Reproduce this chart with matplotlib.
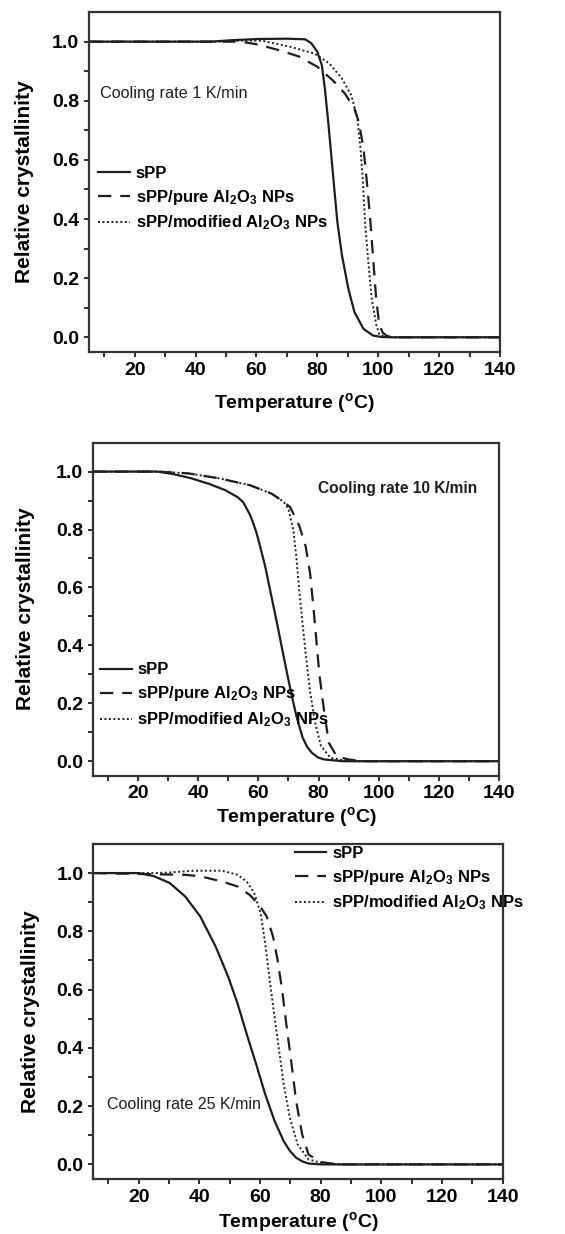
import numpy as np
import matplotlib.pyplot as plt

plt.rcParams['font.family'] = ['Liberation Sans', 'DejaVu Sans']
plt.rcParams['mathtext.fontset'] = 'custom'
plt.rcParams['mathtext.rm'] = 'Liberation Sans:bold'
plt.rcParams['mathtext.bf'] = 'Liberation Sans:bold'
plt.rcParams['mathtext.it'] = 'Liberation Sans:bold'

# ---- data ----
# cooling rate 1 K/min
t1_spp = [5, 45, 52, 60.7, 70, 76, 78, 80, 81.5, 82.5, 83.6, 84.6, 85.6, 86.6, 88.1, 90.2, 92.2, 95.2, 98.3, 101, 104, 140]
y1_spp = [1.0, 1.0, 1.005, 1.009, 1.01, 1.008, 0.995, 0.966, 0.92, 0.84, 0.727, 0.614, 0.50, 0.389, 0.277, 0.164, 0.085, 0.028, 0.006, 0.001, 0.0, 0.0]
t1_pure = [5, 55, 60.7, 67.8, 73.9, 80, 85, 89.1, 92.2, 93.7, 95.2, 96.2, 97.3, 98.3, 99.3, 100.3, 101.5, 103, 106, 140]
y1_pure = [1.0, 1.0, 0.99, 0.97, 0.95, 0.915, 0.87, 0.824, 0.773, 0.727, 0.636, 0.534, 0.41, 0.273, 0.136, 0.045, 0.015, 0.004, 0.0, 0.0]
t1_mod = [5, 50, 56, 62, 70.9, 79, 84, 88.1, 91.2, 93.2, 94.2, 95, 95.7, 96.8, 97.8, 99.3, 100.3, 102, 105, 140]
y1_mod = [1.0, 1.0, 1.004, 1.003, 0.983, 0.96, 0.926, 0.875, 0.818, 0.739, 0.636, 0.523, 0.386, 0.25, 0.136, 0.045, 0.011, 0.002, 0.0, 0.0]

# cooling rate 10 K/min
t10_spp = [5, 26.4, 31.5, 37.7, 43.8, 49, 53.1, 55, 56.2, 57.3, 58.2, 59.3, 60.3, 62.3, 64.4, 66.5, 68.5, 70.6, 72.6, 74.7, 76.2, 77.8, 79.8, 81.9, 88, 140]
y10_spp = [1.0, 1.0, 0.992, 0.977, 0.957, 0.936, 0.912, 0.894, 0.871, 0.85, 0.825, 0.792, 0.754, 0.672, 0.567, 0.462, 0.357, 0.251, 0.158, 0.082, 0.05, 0.029, 0.013, 0.006, 0.0, 0.0]
t10_pure = [5, 26.4, 36.6, 46.9, 57.2, 64.4, 68.5, 70.6, 73.6, 75.7, 77.2, 78.3, 79.3, 80.3, 81.9, 83.4, 86, 90, 95, 140]
y10_pure = [1.0, 1.0, 0.994, 0.977, 0.953, 0.924, 0.895, 0.877, 0.813, 0.743, 0.649, 0.532, 0.415, 0.298, 0.17, 0.064, 0.017, 0.006, 0.0, 0.0]
t10_mod = [5, 26.4, 36.6, 46.9, 57.2, 64.4, 68.5, 70, 71.6, 72.6, 73.6, 74.7, 75.9, 77.2, 78.8, 80.8, 83.9, 88, 92, 140]
y10_mod = [1.0, 1.0, 0.994, 0.977, 0.953, 0.924, 0.895, 0.871, 0.80, 0.708, 0.59, 0.474, 0.357, 0.24, 0.135, 0.053, 0.012, 0.004, 0.0, 0.0]

# cooling rate 25 K/min
t25_spp = [5, 20, 25.1, 30.2, 35.3, 40.3, 45.4, 49.5, 52.6, 55.6, 58.7, 61.7, 64.8, 67.8, 69.8, 71.9, 74, 76, 80, 140]
y25_spp = [1.0, 1.0, 0.989, 0.966, 0.92, 0.851, 0.747, 0.644, 0.552, 0.448, 0.345, 0.241, 0.149, 0.08, 0.047, 0.023, 0.01, 0.003, 0.0, 0.0]
t25_pure = [5, 35.3, 40.3, 47.5, 52.6, 56.6, 59.7, 62.2, 64.3, 65.8, 67.3, 68.8, 70.4, 71.9, 73.9, 76, 80, 86, 140]
y25_pure = [1.0, 0.994, 0.989, 0.971, 0.954, 0.925, 0.891, 0.851, 0.782, 0.701, 0.598, 0.471, 0.345, 0.218, 0.103, 0.034, 0.008, 0.0, 0.0]
t25_mod = [5, 25, 30.2, 38.3, 47.5, 52.6, 55.6, 58.1, 60.2, 61.7, 63.2, 64.8, 66.3, 67.8, 69.8, 72.4, 76, 81, 86, 140]
y25_mod = [1.0, 1.0, 1.002, 1.008, 1.008, 0.994, 0.971, 0.931, 0.862, 0.759, 0.632, 0.506, 0.391, 0.276, 0.161, 0.069, 0.017, 0.003, 0.0, 0.0]

labels = ['sPP', r'sPP/pure Al$_2$O$_3$ NPs', r'sPP/modified Al$_2$O$_3$ NPs']
xticks = [20, 40, 60, 80, 100, 120, 140]
yticks = [0.0, 0.2, 0.4, 0.6, 0.8, 1.0]

ink = '#1e1e1e'

fig = plt.figure(figsize=(5.65, 12.34), dpi=100)

panels = [
    dict(rect=[0.1575, 0.7147, 0.7274, 0.2755], data=(t1_spp, y1_spp, t1_pure, y1_pure, t1_mod, y1_mod),
         note='Cooling rate 1 K/min', note_xy=(0.027, 0.762), note_w='normal', note_fs=11.7,
         leg=(0.022, 0.45), xlab_y=-0.15, ylab_x=-0.158),
    dict(rect=[0.164, 0.3714, 0.7196, 0.2699], data=(t10_spp, y10_spp, t10_pure, y10_pure, t10_mod, y10_mod),
         note='Cooling rate 10 K/min', note_xy=(0.554, 0.861), note_w='bold', note_fs=11.2,
         leg=(0.018, 0.24), xlab_y=-0.123, ylab_x=-0.164),
    dict(rect=[0.165, 0.0446, 0.7246, 0.2715], data=(t25_spp, y25_spp, t25_pure, y25_pure, t25_mod, y25_mod),
         note='Cooling rate 25 K/min', note_xy=(0.033, 0.221), note_w='normal', note_fs=11.5,
         leg=(0.492, 0.895), xlab_y=-0.128, ylab_x=-0.152),
]

for p in panels:
    ax = fig.add_axes(p['rect'])
    ts, ys, tp, yp, tm, ym = p['data']
    ax.plot(ts, ys, color=ink, lw=1.6, ls='-', label=labels[0])
    ax.plot(tp, yp, color=ink, lw=1.6, ls=(0, (6, 4)), label=labels[1])
    ax.plot(tm, ym, color=ink, lw=1.4, ls=(0, (1, 1.3)), label=labels[2])

    ax.set_xlim(5, 140)
    ax.set_ylim(-0.05, 1.1)
    ax.set_xticks(xticks)
    ax.set_xticks(np.arange(10, 140, 20), minor=True)
    ax.set_yticks(yticks)
    ax.set_yticks(np.arange(0.1, 1.1, 0.2), minor=True)
    ax.set_yticklabels(['%.1f' % v for v in yticks])
    ax.tick_params(which='both', direction='out', length=3.5, width=1.3, color=ink,
                   labelsize=14, top=False, right=False)
    for lab in ax.get_xticklabels() + ax.get_yticklabels():
        lab.set_fontweight('bold')
    for s in ax.spines.values():
        s.set_linewidth(1.6)
        s.set_color('#333333')

    ax.set_xlabel(r'Temperature ($^\mathrm{o}$C)', fontsize=14, fontweight='bold')
    ax.set_ylabel('Relative crystallinity', fontsize=15, fontweight='bold')
    ax.xaxis.set_label_coords(0.5, p['xlab_y'])
    ax.xaxis.label.set_va('center')
    ax.yaxis.set_label_coords(p['ylab_x'], 0.5)
    ax.yaxis.label.set_va('center')

    ax.text(p['note_xy'][0], p['note_xy'][1], p['note'], transform=ax.transAxes,
            fontsize=p['note_fs'], fontweight=p['note_w'], ha='left', va='center', color=ink)

    ax.legend(loc='center left', bbox_to_anchor=p['leg'], frameon=False,
              borderpad=0, borderaxespad=0, handlelength=1.9, handletextpad=0.35,
              labelspacing=0.42, prop={'weight': 'bold', 'size': 12})

fig.savefig('out.png', dpi=100)
